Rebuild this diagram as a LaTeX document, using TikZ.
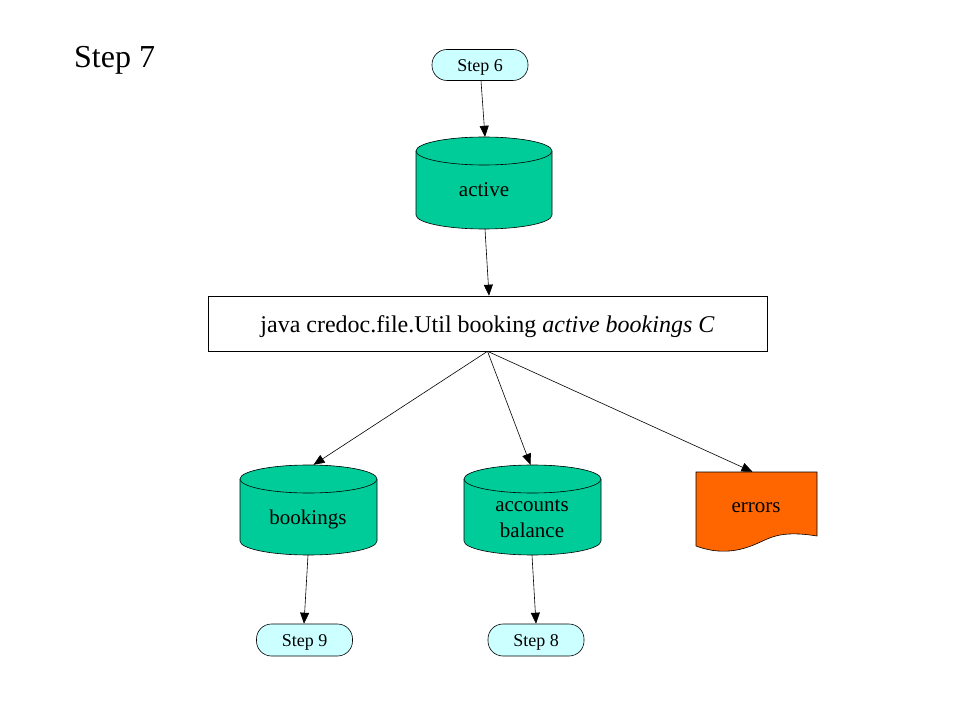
\documentclass[tikz,border=0pt]{standalone}
\usepackage{fontspec}
\setmainfont{Liberation Serif}
\usetikzlibrary{arrows.meta}
\definecolor{cyl}{HTML}{00CC99}
\definecolor{term}{HTML}{CCFFFF}
\definecolor{doc}{HTML}{FF6600}
\tikzset{
  conn/.style={draw=black, line width=0.6pt, -{Triangle[length=11pt,width=9pt]}},
  termbox/.style={draw=black, fill=term, rounded corners=15pt, line width=0.6pt, font=\fontsize{18}{20}\selectfont},
  cylfill/.style={draw=black, fill=cyl, line width=0.6pt},
  cyllabel/.style={font=\fontsize{21}{26}\selectfont, align=center},
  area/.style={draw=none, inner sep=0pt},
}
% #1 left x, #2 right x, #3 top y (top of top ellipse), #4 bottom y (bottom of bottom ellipse)
\newcommand{\mycyl}[4]{%
  \pgfmathsetmacro{\cx}{(#1+#2)/2}%
  \pgfmathsetmacro{\rx}{(#2-#1)/2}%
  \fill[cyl] (#1,#3+14) -- (#1,#4-14) arc[start angle=180,end angle=360,x radius=\rx,y radius=-14] -- (#2,#3+14) arc[start angle=0,end angle=180,x radius=\rx,y radius=-14] -- cycle;
  \draw[line width=0.6pt] (#1,#3+14) -- (#1,#4-14) arc[start angle=180,end angle=360,x radius=\rx,y radius=-14] -- (#2,#3+14);
  \draw[cylfill] (\cx,#3+14) ellipse[x radius=\rx,y radius=14];
}
\begin{document}
\begin{tikzpicture}[x=1pt,y=-1pt]
\useasboundingbox (0,0) rectangle (959,719);
\fill[white] (0,0) rectangle (959,719);

\node[anchor=west, font=\fontsize{32}{36}\selectfont, inner sep=0pt] (title) at (74,60) {Step 7};

% Step 6
\node[termbox, minimum width=96pt, minimum height=31pt, inner sep=0pt] (s6) at (480,65) {};
\node[font=\fontsize{18}{20}\selectfont] (s6lbl) at (480,67) {Step 6};

% active
\mycyl{416}{552}{137}{229}
\node[area, minimum width=136pt, minimum height=92pt] (active) at (484,183) {};
\node[cyllabel] (activelbl) at (484,190) {active};

% java box
\node[draw=black, line width=0.6pt, fill=white, minimum width=559pt, minimum height=55pt, inner sep=0pt] (java) at (487.5,323.5) {};
\node[font=\fontsize{24}{28}\selectfont] (javalbl) at (487.5,326.5) {java credoc.file.Util booking \textit{active bookings C}};

% bookings
\mycyl{240}{377}{465}{555}
\node[area, minimum width=137pt, minimum height=90pt] (book) at (308.5,510) {};
\node[cyllabel] (booklbl) at (308,519) {bookings};

% accounts balance
\mycyl{464}{601}{465}{555}
\node[area, minimum width=137pt, minimum height=90pt] (acc) at (532.5,510) {};
\node[cyllabel] (acclbl) at (532,519) {accounts\\balance};

% errors document
\draw[line width=0.6pt, fill=doc] (696,472) -- (817,472) -- (817,536)
  .. controls (780,530) and (770,538) .. (756,544)
  .. controls (740,551) and (720,555) .. (696,546) -- cycle;
\node[area, minimum width=121pt, minimum height=78pt] (err) at (756.5,511) {};
\node[cyllabel] (errlbl) at (756,508) {errors};

% Step 9, Step 8
\node[termbox, minimum width=96pt, minimum height=32pt, inner sep=0pt] (s9) at (304.5,640) {};
\node[font=\fontsize{18}{20}\selectfont] (s9lbl) at (304.5,642) {Step 9};
\node[termbox, minimum width=96pt, minimum height=32pt, inner sep=0pt] (s8) at (536,640) {};
\node[font=\fontsize{18}{20}\selectfont] (s8lbl) at (536,642) {Step 8};

% connectors
\draw[conn] ([xshift=1pt]s6.south) -- ([xshift=1pt]active.north);
\draw[conn] ([xshift=1pt]active.south) -- ([xshift=1.5pt]java.north);
\draw[conn] (java.south) -- ([xshift=5pt]book.north);
\draw[conn] (java.south) -- ([xshift=-2pt]acc.north);
\draw[conn] (java.south) -- ([xshift=-4pt]err.north);
\draw[conn] ([xshift=-0.5pt]book.south) -- ([xshift=-0.5pt]s9.north);
\draw[conn] ([xshift=-0.5pt]acc.south) -- (s8.north);
\end{tikzpicture}
\end{document}
